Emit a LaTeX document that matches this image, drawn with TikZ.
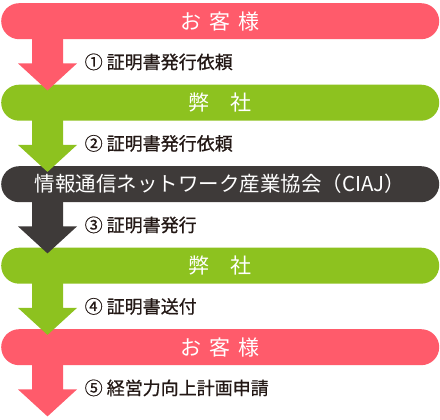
\documentclass[tikz,border=0pt]{standalone}
\usepackage{fontspec}
\setmainfont{Noto Sans CJK JP}
\newfontfamily\lblfont{Noto Sans CJK JP}[FakeBold=0.7]
\usetikzlibrary{calc}
\definecolor{cpink}{HTML}{FF5B6B}
\definecolor{cgreen}{HTML}{8DC21F}
\definecolor{cdark}{HTML}{3E3A39}
\definecolor{ctext}{HTML}{231815}
\tikzset{
  bar/.style={rounded corners=18pt, minimum width=438pt, minimum height=36pt,
    inner sep=0pt, anchor=north west, text=white, font=\fontsize{21}{24}\selectfont},
  lbl/.style={anchor=west, inner sep=0pt, text=ctext, font=\lblfont\fontsize{18}{20}\selectfont},
}
\newcommand\blockarrow[2]{%
  \fill[#2] ($(#1.south west)+(31,-1)$) -- ++(0,25) -- ++(-14,0) -- ++(29.5,27)
    -- ++(29.5,-27) -- ++(-14,0) -- ++(0,-25) -- cycle;}
\begin{document}
\begin{tikzpicture}[x=1pt,y=-1pt]
\useasboundingbox (0,0) rectangle (440,420);
\node[bar, fill=cpink] (b1) at (1,3) {お\hspace{8pt}客\hspace{8pt}様};
\node[bar, fill=cgreen] (b2) at (1,84.5) {弊　社};
\node[bar, fill=cdark, font=\fontsize{20.5}{24}\selectfont] (b3) at (1,166) {情報通信ネットワーク産業協会（CIAJ）};
\node[bar, fill=cgreen] (b4) at (1,247.5) {弊　社};
\node[bar, fill=cpink] (b5) at (1,329) {お\hspace{8pt}客\hspace{8pt}様};
\blockarrow{b1}{cpink}
\blockarrow{b2}{cgreen}
\blockarrow{b3}{cdark}
\blockarrow{b4}{cgreen}
\blockarrow{b5}{cpink}
\node[lbl] (l1) at ($(b1.south west)+(83.5,22.5)$) {① 証明書発行依頼};
\node[lbl] (l2) at ($(b2.south west)+(83.5,22.5)$) {② 証明書発行依頼};
\node[lbl] (l3) at ($(b3.south west)+(83.5,22.5)$) {③ 証明書発行};
\node[lbl] (l4) at ($(b4.south west)+(83.5,22.5)$) {④ 証明書送付};
\node[lbl] (l5) at ($(b5.south west)+(83.5,22.5)$) {⑤ 経営力向上計画申請};
\end{tikzpicture}
\end{document}
